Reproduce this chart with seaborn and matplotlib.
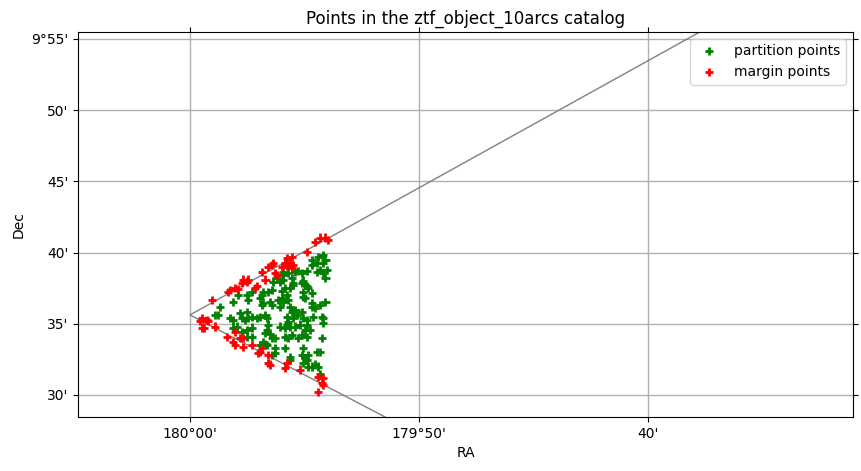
import numpy as np
import pandas as pd
import matplotlib
matplotlib.use("Agg")
import matplotlib.pyplot as plt
import seaborn as sns
from matplotlib.ticker import FixedLocator, FixedFormatter

# RA given as arcminutes west of 180°00', Dec as arcminutes north of +9°00'
part_ra = [5.81, 5.59, 5.90, 5.33, 5.55, 5.81, 5.33, 5.98, 5.68, 5.55, 5.81, 5.90,
           4.06, 4.28, 4.59, 4.89, 4.45, 4.06, 3.80, 3.93, 3.62, 4.89, 5.02, 5.15,
           4.93, 4.93, 5.33, 4.50, 4.37, 4.15, 4.24, 4.02, 3.84, 4.06, 4.28, 3.58,
           3.41, 3.19, 3.14, 3.06, 2.71, 2.49, 2.53, 1.88, 1.31, 1.22, 1.09, 3.58,
           3.49, 3.19, 3.14, 3.93, 4.37, 4.45, 4.59, 4.24, 4.50, 4.28, 4.67, 4.89,
           4.93, 5.11, 5.33, 5.46, 5.37, 5.76, 5.81, 5.81, 5.11, 5.33, 5.68, 5.90,
           1.75, 1.88, 2.18, 2.49, 2.53, 2.71, 2.93, 3.06, 3.28, 3.36, 2.27, 2.40,
           1.88, 2.05, 2.27, 2.49, 2.71, 2.49, 2.71, 3.28, 3.19, 3.36, 3.58, 3.71,
           3.93, 4.24, 4.15, 4.37, 4.59, 4.45, 4.15, 4.28, 5.02, 5.24, 4.89, 4.72,
           5.11, 5.76, 3.71, 4.15, 3.71, 3.58, 4.93, 4.89, 5.02, 5.15, 5.55, 5.68,
           4.37, 4.37, 5.15, 5.33, 5.46, 5.59, 5.11, 4.93, 3.06, 2.10, 3.41, 3.36,
           5.11, 4.72, 4.06, 5.11, 4.93, 5.02, 4.02, 4.50, 3.49, 3.28, 5.68, 4.80]
part_dec = [39.83, 39.69, 39.48, 39.48, 39.27, 39.27, 39.13, 38.78, 38.78, 38.64, 38.57, 38.22,
            38.64, 38.57, 38.64, 38.57, 38.22, 38.08, 38.22, 37.94, 37.94, 37.87, 37.72, 37.51,
            37.23, 36.88, 37.16, 37.87, 37.51, 37.51, 37.02, 36.81, 36.67, 36.53, 36.67, 37.37,
            37.23, 37.23, 37.02, 36.81, 37.23, 37.02, 36.67, 36.53, 36.18, 35.62, 35.62, 36.32,
            36.53, 36.46, 36.32, 36.18, 36.18, 35.83, 35.97, 35.48, 35.41, 35.13, 35.62, 35.83,
            35.41, 35.27, 36.18, 36.11, 35.48, 35.48, 35.41, 35.06, 34.92, 36.46, 36.32, 36.53,
            35.41, 35.27, 35.76, 35.83, 35.41, 35.48, 35.41, 35.48, 35.62, 35.41, 35.41, 35.27,
            34.71, 34.78, 34.42, 34.56, 34.71, 34.07, 34.07, 34.35, 33.72, 33.51, 34.00, 34.00,
            34.78, 34.92, 34.71, 34.78, 34.78, 34.21, 34.07, 34.00, 34.56, 34.56, 34.21, 34.00,
            34.07, 34.00, 33.30, 33.30, 32.95, 32.81, 33.30, 32.81, 32.60, 32.81, 33.02, 33.02,
            32.67, 32.46, 31.97, 31.97, 32.11, 31.97, 32.46, 32.25, 33.51, 37.02, 34.92, 34.56,
            38.71, 38.71, 38.43, 37.65, 38.01, 36.81, 37.30, 37.72, 34.28, 33.58, 31.47, 34.92]

marg_ra = [5.46, 5.68, 5.90, 6.03, 5.11, 4.24, 4.45, 4.37, 4.15, 4.50, 4.02, 3.58,
           3.41, 3.14, 3.71, 3.80, 3.28, 2.31, 2.49, 2.27, 2.53, 2.84, 1.97, 1.75,
           1.66, 0.96, 0.52, 0.74, 0.52, 0.61, 1.09, 1.62, 1.97, 1.88, 1.97, 2.18,
           2.31, 2.31, 2.71, 3.06, 2.97, 3.14, 3.41, 3.41, 3.49, 4.24, 4.15, 4.80,
           5.59, 5.81, 5.76, 5.81, 5.59, 4.45, 4.24, 3.62, 0.44, 0.79, 2.93, 2.10]
marg_dec = [40.74, 41.03, 41.03, 40.88, 40.04, 39.62, 39.69, 39.27, 39.27, 39.13, 38.99, 39.13,
            38.99, 38.64, 38.57, 38.43, 38.08, 38.08, 37.94, 37.87, 38.08, 37.51, 37.51, 37.37,
            37.23, 36.67, 35.41, 35.27, 34.71, 34.71, 34.78, 34.07, 34.42, 33.72, 33.51, 34.00,
            34.00, 33.37, 33.51, 33.02, 32.95, 33.30, 32.81, 32.25, 32.11, 32.25, 31.90, 31.76,
            31.26, 31.19, 30.84, 30.70, 30.21, 38.92, 39.06, 39.27, 35.20, 35.20, 37.65, 37.44]

# pixel boundary (great-circle edges), same units
edge_ra = [30.0, 0.0, 12.0]
edge_dec = [62.40, 35.62, 25.52]

x_ticks = [0, 10, 20]
x_labels = ["180°00'", "179°50'", "40'"]
y_ticks = [30, 35, 40, 45, 50, 55]
y_labels = ["30'", "35'", "40'", "45'", "50'", "9°55'"]

labels = ["partition points", "margin points"]

df = pd.DataFrame({
    "ra": part_ra + marg_ra,
    "dec": part_dec + marg_dec,
    "kind": [labels[0]] * len(part_ra) + [labels[1]] * len(marg_ra),
})

fig = plt.figure(figsize=(8.62, 4.71), dpi=100)
ax = fig.add_axes([78 / 862, 1 - 417 / 471, (853 - 78) / 862, (417 - 32) / 471])

ax.grid(True, color="#b0b0b0", linewidth=1.0, zorder=0)
ax.set_axisbelow(True)
ax.plot(edge_ra, edge_dec, color="gray", linewidth=1.0, zorder=1)

sns.scatterplot(data=df, x="ra", y="dec", hue="kind",
                palette={labels[0]: "green", labels[1]: "red"},
                marker="+", s=40, linewidth=2, ax=ax, zorder=2)

ax.set_xlim(-4.89, 28.95)
ax.set_ylim(28.45, 55.49)

ax.xaxis.set_major_locator(FixedLocator(x_ticks))
ax.xaxis.set_major_formatter(FixedFormatter(x_labels))
ax.yaxis.set_major_locator(FixedLocator(y_ticks))
ax.yaxis.set_major_formatter(FixedFormatter(y_labels))
ax.tick_params(direction="out", top=True, right=True, labeltop=False, labelright=False,
               labelsize=10)

ax.set_xlabel("RA", fontsize=10)
ax.set_ylabel("Dec", fontsize=10)
ax.set_title("Points in the ztf_object_10arcs catalog", fontsize=12)

handles, lbls = ax.get_legend_handles_labels()
ax.legend(handles, lbls, loc="upper right", fontsize=10)

fig.savefig("out.png", dpi=100)
